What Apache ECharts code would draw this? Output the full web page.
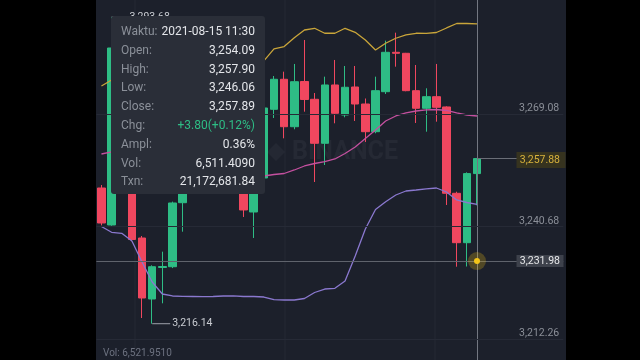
<!DOCTYPE html>
<html><head><meta charset="utf-8">
<script src="https://cdn.jsdelivr.net/npm/echarts@6/dist/echarts.min.js"></script>
<style>
html,body{margin:0;padding:0;background:#000;}
#chart{width:640px;height:360px;background:linear-gradient(to right,#000 0,#000 96.5px,#1c202b 96.5px,#1c202b 566px,#000 566px);}
</style></head><body><div id="chart"></div>
<script>
// ---- data ----
const categories = ['08-14 17:00','08-14 17:30','08-14 18:00','08-14 18:30','08-14 19:00','08-14 19:30','08-14 20:00','08-14 20:30','08-14 21:00','08-14 21:30','08-14 22:00','08-14 22:30','08-14 23:00','08-14 23:30','08-15 00:00','08-15 00:30','08-15 01:00','08-15 01:30','08-15 02:00','08-15 02:30','08-15 03:00','08-15 03:30','08-15 04:00','08-15 04:30','08-15 05:00','08-15 05:30','08-15 06:00','08-15 06:30','08-15 07:00','08-15 07:30','08-15 08:00','08-15 08:30','08-15 09:00','08-15 09:30','08-15 10:00','08-15 10:30','08-15 11:00','08-15 11:30','08-15 12:00','08-15 12:30','08-15 13:00','08-15 13:30','08-15 14:00','08-15 14:30','08-15 15:00','08-15 15:30'];
const openValues  = [3250.45,3241.10,3285.84,3259.50,3237.81,3222.39,3230.35,3230.55,3246.73,3251.80,3258.50,3254.20,3262.40,3257.30,3253.10,3244.38,3252.98,3270.34,3277.93,3265.94,3277.37,3272.87,3261.75,3276.49,3268.90,3275.98,3271.68,3264.68,3274.79,3284.75,3284.50,3275.05,3270.60,3273.53,3270.93,3249.11,3236.62,3254.09];
const closeValues = [3241.60,3285.84,3260.20,3237.43,3222.64,3230.55,3230.60,3246.66,3251.80,3258.50,3254.20,3262.40,3257.30,3253.10,3244.89,3249.60,3270.67,3277.93,3265.94,3277.32,3272.82,3261.75,3276.49,3269.33,3275.91,3271.68,3264.68,3275.05,3284.75,3284.50,3275.05,3270.60,3273.53,3270.85,3249.11,3236.62,3254.09,3257.89];
const lowValues   = [3241.00,3240.90,3258.00,3237.00,3217.58,3216.14,3221.30,3230.20,3239.40,3250.50,3252.90,3253.00,3255.60,3251.20,3243.12,3237.81,3252.00,3268.14,3263.01,3265.29,3269.74,3251.96,3256.26,3266.80,3268.32,3267.39,3262.08,3264.28,3274.21,3281.11,3274.90,3266.88,3264.68,3267.21,3246.15,3230.55,3230.60,3246.06];
const highValues  = [3251.20,3293.68,3287.50,3260.00,3238.31,3230.90,3234.35,3247.00,3252.50,3260.10,3261.00,3264.00,3265.20,3259.00,3254.00,3250.20,3271.50,3278.76,3279.85,3281.80,3287.86,3274.46,3278.59,3282.81,3281.29,3281.29,3273.07,3278.59,3287.69,3289.71,3284.60,3281.54,3275.65,3281.80,3271.10,3249.51,3254.40,3257.90];
const bollUpper = [3276.23,3277.75,3278.76,3280.53,3284.32,3287.36,3288.87,3288.37,3287.36,3286.98,3286.60,3285.97,3285.34,3284.83,3284.45,3284.20,3282.60,3285.60,3286.20,3288.40,3290.39,3290.82,3289.56,3289.56,3290.82,3289.80,3287.86,3285.34,3287.03,3288.30,3289.13,3289.56,3289.51,3289.76,3290.90,3292.03,3292.03,3291.91];
const bollMid   = [3259.04,3259.55,3259.30,3258.79,3258.03,3257.02,3256.26,3255.76,3255.25,3255.00,3254.75,3254.49,3254.24,3253.99,3253.74,3253.61,3253.48,3253.86,3254.11,3255.00,3256.01,3256.64,3257.10,3257.78,3259.17,3260.81,3262.96,3265.12,3267.39,3268.65,3269.41,3269.91,3270.17,3270.29,3270.04,3269.41,3268.90,3268.65];
const bollLower = [3240.71,3239.25,3238.99,3237.05,3231.74,3226.69,3223.65,3223.15,3223.07,3223.02,3222.97,3223.02,3223.15,3223.20,3223.02,3223.02,3222.89,3222.21,3222.13,3222.13,3222.51,3224.03,3224.91,3225.09,3226.93,3233.26,3240.08,3245.01,3246.99,3248.68,3249.69,3249.94,3250.20,3250.45,3249.44,3247.42,3246.78,3246.28];
const yTickValues = [3212.26, 3240.68, 3269.08];
const yTickLabels = ['3,212.26','3,240.68','3,269.08'];
const yMin = 3212.26, yMax = 3297.49;
const crosshairValue = 3231.98, crosshairLabel = '3,231.98';
const lastPrice = 3257.88, lastPriceLabel = '3,257.88';
const maxHigh = 3293.68, maxLabel = '3,293.68';
const minLow = 3216.14, minLabel = '3,216.14';
const tooltipLabels = ['Waktu:','Open:','High:','Low:','Close:','Chg:','Ampl:','Vol:','Txn:'];
const tooltipValues = ['2021-08-15 11:30','3,254.09','3,257.90','3,246.06','3,257.89','+3.80(+0.12%)','0.36%','6,511.4090','21,172,681.84'];
const volumeText = 'Vol: 6,521.9510';

// ---- chart ----
const UP = '#2ebd85', DOWN = '#f0475f';
const FONT = 'Roboto, "Noto Sans", sans-serif';
const n = openValues.length;
const lastIdx = n - 1;
const candleData = openValues.map((o, i) => [o, closeValues[i], lowValues[i], highValues[i]]);
const maxIdx = highValues.indexOf(Math.max(...highValues));
const minIdx = lowValues.indexOf(Math.min(...lowValues));

const chart = echarts.init(document.getElementById('chart'));
const markerLabel = (txt) => ({show: true, position: 'right', distance: 2, formatter: txt, color: '#c9ccd2', fontSize: 10.5, fontFamily: FONT});

const option = {
  animation: false,
  grid: {left: 96.375, right: 76.725, top: 1.9, bottom: 20.94},
  xAxis: {type: 'category', data: categories, boundaryGap: true, show: false},
  yAxis: {
    type: 'value', position: 'right', min: yMin, max: yMax, scale: true,
    axisLine: {show: false}, axisTick: {show: false}, splitLine: {show: false},
    axisLabel: {
      inside: true, margin: 4, color: '#8b8f98', fontSize: 10.5, fontFamily: FONT,
      verticalAlign: 'bottom', customValues: yTickValues,
      formatter: (v) => { const i = yTickValues.findIndex(t => Math.abs(t - v) < 0.01); return i >= 0 ? yTickLabels[i] : ''; }
    }
  },
  series: [
    { // grid lines behind everything
      type: 'line', data: [], z: 1, silent: true,
      markLine: {silent: true, symbol: ['none','none'], label: {show: false},
        lineStyle: {color: '#262a36', width: 1, type: 'solid'},
        data: yTickValues.map(v => ({yAxis: v}))}
    },
    {
      type: 'candlestick', data: candleData, barWidth: 8, z: 2,
      itemStyle: {color: UP, color0: DOWN, borderColor: UP, borderColor0: DOWN, borderWidth: 1},
      markPoint: {
        silent: true,
        data: [
          {coord: [categories[maxIdx], maxHigh], symbol: 'rect', symbolSize: [16, 1], symbolOffset: [8, 0], itemStyle: {color: '#9ea2aa'}, label: markerLabel(maxLabel)},
          {coord: [categories[minIdx], minLow], symbol: 'rect', symbolSize: [18, 1], symbolOffset: [9, 0], itemStyle: {color: '#9ea2aa'}, label: markerLabel(minLabel)}
        ]
      }
    },
    {type: 'line', name: 'UP', data: bollUpper, z: 3, showSymbol: false, symbol: 'none', lineStyle: {color: '#c9a53a', width: 1.3}},
    {type: 'line', name: 'MB', data: bollMid, z: 3, showSymbol: false, symbol: 'none', lineStyle: {color: '#c4509f', width: 1.3}},
    {type: 'line', name: 'DN', data: bollLower, z: 3, showSymbol: false, symbol: 'none', lineStyle: {color: '#8a78cf', width: 1.3}},
    { // crosshair horizontal + last price line + dot
      type: 'line', data: [], z: 5, silent: true,
      markLine: {silent: true, symbol: ['none','none'], label: {show: false},
        data: [
          {yAxis: crosshairValue, lineStyle: {color: '#5f636c', width: 1, type: 'solid'}},
          [{coord: [categories[lastIdx], lastPrice], lineStyle: {color: '#6a6e77', width: 1, type: 'solid'}}, {coord: [categories[categories.length - 1], lastPrice]}]
        ]},
      markPoint: {silent: true, label: {show: false},
        data: [
          {coord: [categories[lastIdx], crosshairValue], symbol: 'circle', symbolSize: 18, itemStyle: {color: 'rgba(240,190,20,0.25)'}},
          {coord: [categories[lastIdx], crosshairValue], symbol: 'circle', symbolSize: 6, itemStyle: {color: '#f2c419'}}
        ]}
    }
  ]
};
chart.setOption(option);

// ---- overlay UI elements (tooltip, price tags, crosshair, watermark) ----
const xCross = Math.round(chart.convertToPixel({xAxisIndex: 0}, categories[lastIdx])) + 0.5;
const yCross = chart.convertToPixel({yAxisIndex: 0}, crosshairValue);
const yLast = chart.convertToPixel({yAxisIndex: 0}, lastPrice);
const txt = (id, text, x, y, fill, size, align, z, weight) => ({
  type: 'text', id, z: z, silent: true,
  style: {text, x, y, fill, font: (weight || 'normal') + ' ' + size + 'px ' + FONT,
    textAlign: align, align: align, textVerticalAlign: 'middle', verticalAlign: 'middle'}
});
const graphics = [];
[135, 285, 435].forEach((x, i) => graphics.push({type: 'line', id: 'vg' + i, z: 0, silent: true,
  shape: {x1: x, y1: 0, x2: x, y2: 360}, style: {stroke: '#242834', lineWidth: 1}}));
graphics.push({type: 'polygon', id: 'wmlogo', z: 0, silent: true,
  shape: {points: [[276, 143], [285, 152], [276, 161], [267, 152]]}, style: {fill: 'rgba(255,255,255,0.04)'}});
graphics.push(txt('wm', 'BINANCE', 292, 153, 'rgba(255,255,255,0.045)', 25, 'left', 0, 'bold'));
// crosshair vertical (full height), under the dot
graphics.push({type: 'line', id: 'chv', z: 4, silent: true,
  shape: {x1: xCross, y1: 0, x2: xCross, y2: 360}, style: {stroke: '#737781', lineWidth: 1}});
// tooltip box
graphics.push({type: 'rect', id: 'tipbox', z: 100, silent: true,
  shape: {x: 111, y: 16, width: 154, height: 178, r: 3}, style: {fill: '#2a2e38'}});
tooltipLabels.forEach((l, i) => {
  const y = 32 + i * 18.8;
  graphics.push(txt('tl' + i, l, 121, y, '#8b9099', 12, 'left', 101));
  graphics.push(txt('tv' + i, tooltipValues[i], 255, y, i === 5 ? '#2ebd85' : '#e4e6ea', 12, 'right', 101));
});
// last price tag
graphics.push({type: 'rect', id: 'lpbox', z: 110, silent: true,
  shape: {x: 516.5, y: yLast - 6.5, width: 49, height: 16}, style: {fill: '#36331f'}});
graphics.push(txt('lptxt', lastPriceLabel, 560, yLast + 1.5, '#d8b23c', 10.5, 'right', 111));
// crosshair tag
graphics.push({type: 'rect', id: 'chbox', z: 110, silent: true,
  shape: {x: 516.5, y: yCross - 6, width: 47, height: 12}, style: {fill: '#3d414b'}});
graphics.push(txt('chtxt', crosshairLabel, 560, yCross, '#e8e9eb', 10.5, 'right', 111));
// volume text
graphics.push(txt('vol', volumeText, 103, 353, '#6d7280', 10, 'left', 50));
chart.setOption({graphic: graphics});
</script>
</body></html>
